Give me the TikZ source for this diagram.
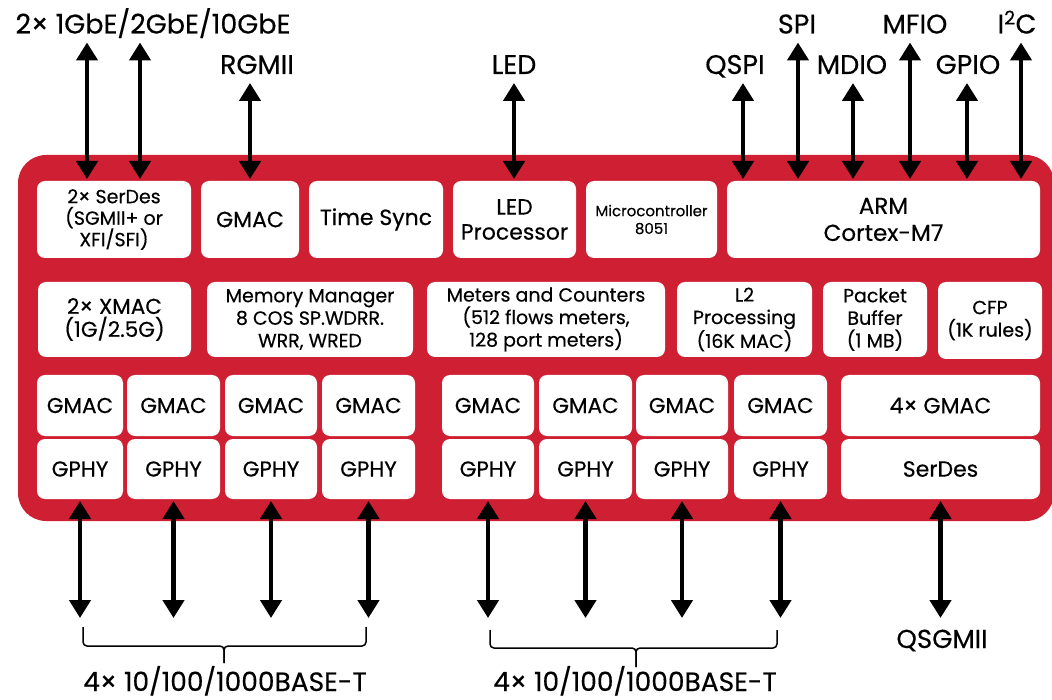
\documentclass[tikz,border=0pt]{standalone}
\usepackage{fontspec}
\setmainfont{Poppins}[FakeBold=0.4]
\usetikzlibrary{arrows.meta}

\definecolor{chipred}{RGB}{206,32,50}
\newcommand{\lblfont}{\fontsize{27}{30}\selectfont}
\newcommand{\bigfont}{\fontsize{22}{25}\selectfont}
\newcommand{\portfont}{\fontsize{21.5}{24}\selectfont}
\newcommand{\xmacfont}{\fontsize{21.5}{23}\selectfont}
\newcommand{\midfont}{\fontsize{19}{22.5}\selectfont}
\newcommand{\mcufont}{\fontsize{15}{17.7}\selectfont}

\begin{document}
\begin{tikzpicture}[x=1pt, y=-1pt,
        blk/.style={fill=white, rounded corners=8pt, align=center, inner sep=0pt, outer sep=2pt, font=\bigfont},
        lbl/.style={font=\lblfont, inner sep=0pt, outer sep=9pt, text depth=0pt, anchor=base},
        arrow/.style={{Triangle[width=21pt,length=18pt]}-{Triangle[width=21pt,length=18pt]}, line width=4.5pt},
        brace/.style={line width=1.5pt, rounded corners=4pt}
        ]
        \useasboundingbox (0,0) rectangle (1052,700);
        \fill[chipred, rounded corners=28pt] (18,155) rectangle (1054,521);

        % first row
        \node[blk, minimum width=154pt, minimum height=77pt, font=\fontsize{19}{21.5}\selectfont] (serdes) at (114,219.5) {2× SerDes\\(SGMII+ or\\XFI/SFI)};
        \node[blk, minimum width=98pt, minimum height=77pt] (gmac) at (250,219.5) {GMAC};
        \node[blk, minimum width=134pt, minimum height=77pt] (tsync) at (376,219.5) {Time Sync};
        \node[blk, minimum width=123pt, minimum height=77pt] (ledp) at (514.5,219.5) {LED\\Processor};
        \node[blk, minimum width=131pt, minimum height=77pt, font=\mcufont] (mcu) at (651.5,219.5) {Microcontroller\\8051};
        \node[blk, minimum width=313pt, minimum height=77pt, font=\fontsize{23}{27}\selectfont] (arm) at (883.5,219.5) {ARM\\Cortex-M7};

        % second row
        \node[blk, minimum width=153pt, minimum height=75pt, font=\xmacfont] (xmac) at (114.5,319.5) {2× XMAC\\(1G/2.5G)};
        \node[blk, minimum width=206pt, minimum height=75pt, font=\midfont] (mem) at (310,319.5) {Memory Manager\\8 COS SP.WDRR.\\WRR, WRED};
        \node[blk, minimum width=238pt, minimum height=75pt, font=\midfont] (meter) at (546,319.5) {Meters and Counters\\(512 flows meters,\\128 port meters)};
        \node[blk, minimum width=135pt, minimum height=75pt, font=\midfont] (ltwo) at (744.5,319.5) {L2\\Processing\\(16K MAC)};
        \node[blk, minimum width=104pt, minimum height=75pt, font=\midfont] (pbuf) at (875,319.5) {Packet\\Buffer\\(1 MB)};
        \node[blk, minimum width=104pt, minimum height=77pt, font=\midfont] (cfp) at (990,320.5) {CFP\\(1K rules)};

        % port blocks
        \foreach \i/\x/\w in {1/80/86, 2/173.5/93, 3/271/92, 4/368.5/93, 5/488/92, 6/585.5/93, 7/682/92, 8/780.5/93} {
            \node[blk, minimum width=\w pt, minimum height=61pt, font=\portfont] (mac\i) at (\x,405.5) {GMAC};
            \node[blk, minimum width=\w pt, minimum height=60pt, font=\portfont] (phy\i) at (\x,469) {GPHY};
        }
        \node[blk, minimum width=199pt, minimum height=61pt] (qmac) at (940.5,405.5) {4× GMAC};
        \node[blk, minimum width=199pt, minimum height=60pt] (qserdes) at (940.5,469) {SerDes};

        % outside signals
        \node[lbl] (eth) at (153,33.5) {2× 1GbE/2GbE/10GbE};
        \node[lbl] (rgmii) at (257,74) {RGMII};
        \node[lbl] (led) at (514,74) {LED};
        \node[lbl] (qspi) at (735,74) {QSPI};
        \node[lbl] (spi) at (797,33.5) {SPI};
        \node[lbl] (mdio) at (852,74) {MDIO};
        \node[lbl] (mfio) at (915,33.5) {MFIO};
        \node[lbl] (gpio) at (968,74) {GPIO};
        \node[lbl] (iic) at (1017,33.5) {I\textsuperscript{2}C};

        \foreach \x/\lab/\tgt in {87/eth/serdes, 140/eth/serdes, 250/rgmii/gmac, 514/led/ledp, 743/qspi/arm, 798/spi/arm, 853/mdio/arm, 910/mfio/arm, 967/gpio/arm, 1021/iic/arm}
            \draw[arrow] (\x,0 |- \lab.south) -- (\x,0 |- \tgt.north);

        \coordinate (lowend) at (0,618);
        \foreach \i in {1,...,8}
            \draw[arrow] (phy\i.south) -- (phy\i.south |- lowend);
        \draw[arrow] (qserdes.south) -- (qserdes.south |- lowend);

        % braces
        \draw[brace] (83,627) |- (224,646) -- (224,663);
        \draw[brace] (366,627) |- (224,646) -- (224,663);
        \draw[brace] (490,630) |- (636,648) -- (636,667);
        \draw[brace] (777,630) |- (636,648) -- (636,667);

        \node[lbl, font=\fontsize{26.5}{30}\selectfont] (baset) at (225,691) {4× 10/100/1000BASE-T};
        \node[lbl, font=\fontsize{26.5}{30}\selectfont] (basetb) at (635,691) {4× 10/100/1000BASE-T};
        \node[lbl, font=\fontsize{26}{30}\selectfont] (qsgmii) at (942,648) {QSGMII};
    \end{tikzpicture}
\end{document}
